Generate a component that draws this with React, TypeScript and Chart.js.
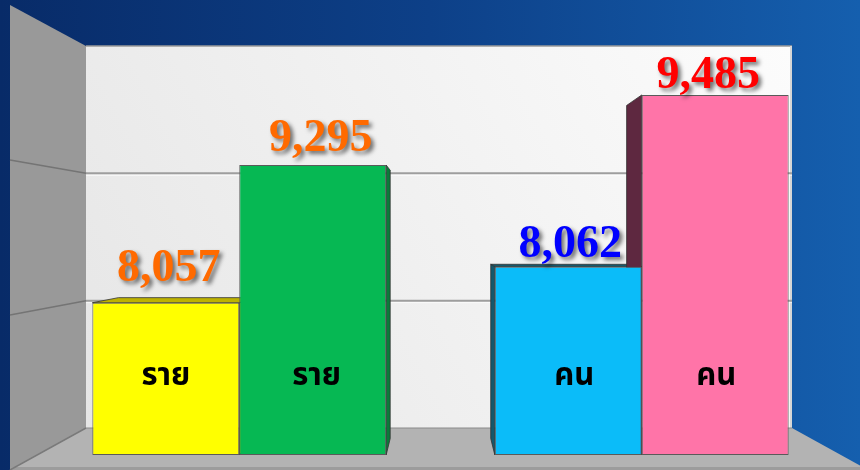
import React, { useEffect, useRef } from 'react';
import { Chart, registerables } from 'chart.js';

Chart.register(...registerables);

// ---- data ----
const groups = ['ราย', 'คน'];
const caseValues = [8057, 9295];
const personValues = [8062, 9485];

// ---- styles ----
const caseColors = ['#ffff00', '#06b853'];
const personColors = ['#0bbcf9', '#ff74a8'];
const caseSideColors = ['#bdb200', '#0a7a3a'];
const personSideColors = ['#14586c', '#5e2840'];
const caseLabelColors = ['#ff6a00', '#ff6a00'];
const personLabelColors = ['#0000ff', '#ff0000'];
const caseAxis = { min: 6688, max: 10374 };
const personAxis = { min: 6501, max: 9899 };
// label nudges (pixels) per bar, in drawing order
const valueLabelShiftX = [3, 8, 2, -7];
const valueLabelLift = [22, 14, 10, 7];
const unitLabelShiftX = [0, 4, 6, 1];

const sideColors = [...caseSideColors, ...personSideColors];
const labelColors = [...caseLabelColors, ...personLabelColors];
const unitLabels = [groups[0], groups[0], groups[1], groups[1]];
const thaiFont =
  "'Noto Sans Thai', 'Noto Sans Thai UI', Loma, Garuda, Waree, Norasi, Kinnari, Umpush, Sawasdee, Tahoma, 'Noto Serif Thai', 'DejaVu Sans', sans-serif";

const roomPlugin = {
  id: 'room',
  beforeDraw(chart: any) {
    const { ctx, chartArea: ca, width, height } = chart;
    const bl = ca.left + 48;
    const br = ca.right - 51;
    const bt = ca.top + 1;
    const bb = ca.bottom - 27;
    const wx = 10;
    const wt = 5;
    const ff = height;
    ctx.save();
    const bg = ctx.createLinearGradient(0, 0, width, 0);
    bg.addColorStop(0, '#082b68');
    bg.addColorStop(0.5, '#0d4088');
    bg.addColorStop(1, '#155fae');
    ctx.fillStyle = bg;
    ctx.fillRect(0, 0, width, height);
    const bw = ctx.createLinearGradient(bl, bb, br, bt);
    bw.addColorStop(0, '#e6e6e6');
    bw.addColorStop(1, '#fcfcfc');
    ctx.fillStyle = bw;
    ctx.fillRect(bl, bt, br - bl, bb - bt);
    ctx.strokeStyle = '#9a9a9a';
    ctx.lineWidth = 1.5;
    ctx.beginPath();
    ctx.moveTo(bl, bt);
    ctx.lineTo(br, bt);
    ctx.stroke();
    ctx.strokeStyle = '#d6d6d6';
    ctx.lineWidth = 2;
    ctx.beginPath();
    ctx.moveTo(br - 1, bt);
    ctx.lineTo(br - 1, bb);
    ctx.stroke();
    ctx.fillStyle = '#999999';
    ctx.beginPath();
    ctx.moveTo(wx, wt);
    ctx.lineTo(bl, bt);
    ctx.lineTo(bl, bb);
    ctx.lineTo(wx, ff);
    ctx.closePath();
    ctx.fill();
    ctx.fillStyle = '#b3b3b3';
    ctx.beginPath();
    ctx.moveTo(bl, bb);
    ctx.lineTo(br, bb);
    ctx.lineTo(br + 76, ff);
    ctx.lineTo(wx, ff);
    ctx.closePath();
    ctx.fill();
    ctx.fillStyle = '#9c9c9c';
    ctx.fillRect(wx, ff - 3, br + 76 - wx, 3);
    ctx.strokeStyle = '#7a7a7a';
    ctx.lineWidth = 1.5;
    ctx.beginPath();
    ctx.moveTo(bl, bb);
    ctx.lineTo(wx, ff);
    ctx.stroke();
    ctx.strokeStyle = '#8a8a8a';
    ctx.lineWidth = 1;
    ctx.beginPath();
    ctx.moveTo(bl, bb);
    ctx.lineTo(br, bb);
    ctx.stroke();
    for (let i = 1; i <= 2; i++) {
      const f = i / 3;
      const by = bt + f * (bb - bt);
      const fy = wt + f * (ff - wt);
      ctx.strokeStyle = '#9e9e9e';
      ctx.lineWidth = 2;
      ctx.beginPath();
      ctx.moveTo(bl, by);
      ctx.lineTo(br, by);
      ctx.stroke();
      ctx.strokeStyle = 'rgba(255,255,255,0.7)';
      ctx.lineWidth = 1;
      ctx.beginPath();
      ctx.moveTo(bl, by + 2);
      ctx.lineTo(br, by + 2);
      ctx.stroke();
      ctx.strokeStyle = '#747474';
      ctx.lineWidth = 1.5;
      ctx.beginPath();
      ctx.moveTo(wx, fy);
      ctx.lineTo(bl, by);
      ctx.stroke();
    }
    // prime the Thai fallback font
    ctx.font = 'bold 32px ' + thaiFont;
    ctx.measureText(groups.join(' '));
    ctx.restore();
  },
};

const V = { x: 440, y: 235 };
const K = 0.075;
const backPt = (px: number, py: number): [number, number] => [px + K * (V.x - px), py + K * (V.y - py)];

const depthPlugin = {
  id: 'depth',
  beforeDatasetsDraw(chart: any) {
    const { ctx } = chart;
    ctx.save();
    chart.data.datasets.forEach((ds: any, di: number) => {
      const meta = chart.getDatasetMeta(di);
      meta.data.forEach((el: any, i: number) => {
        const v = ds.data[i];
        if (v === null || v === undefined) return;
        const L = el.x - el.width / 2;
        const R = el.x + el.width / 2;
        const T = el.y;
        const B = Math.min(el.base, chart.chartArea.bottom);
        const faces: [number, number][][] = [];
        if (R < V.x) faces.push([[R, T], backPt(R, T), backPt(R, B), [R, B]]);
        if (L > V.x) faces.push([[L, T], backPt(L, T), backPt(L, B), [L, B]]);
        if (T > V.y) faces.push([[L, T], backPt(L, T), backPt(R, T), [R, T]]);
        faces.forEach((poly) => {
          ctx.fillStyle = sideColors[di];
          ctx.strokeStyle = 'rgba(50,50,50,0.8)';
          ctx.lineWidth = 1;
          ctx.beginPath();
          poly.forEach(([x, y], j) => (j ? ctx.lineTo(x, y) : ctx.moveTo(x, y)));
          ctx.closePath();
          ctx.fill();
          ctx.stroke();
        });
      });
    });
    ctx.restore();
  },
};

const labelPlugin = {
  id: 'labels',
  afterDatasetsDraw(chart: any) {
    const { ctx } = chart;
    ctx.save();
    chart.data.datasets.forEach((ds: any, di: number) => {
      const meta = chart.getDatasetMeta(di);
      meta.data.forEach((el: any, i: number) => {
        const v = ds.data[i];
        if (v === null || v === undefined) return;
        ctx.shadowColor = 'transparent';
        ctx.fillStyle = '#000000';
        ctx.font = 'bold 31px ' + thaiFont;
        ctx.textAlign = 'center';
        ctx.textBaseline = 'alphabetic';
        ctx.fillText(unitLabels[di], el.x + unitLabelShiftX[di], el.base - 70);
        ctx.font = "bold 46px 'Liberation Serif', 'Times New Roman', serif";
        ctx.shadowColor = 'rgba(0,0,0,0.55)';
        ctx.shadowOffsetX = 3;
        ctx.shadowOffsetY = 3;
        ctx.shadowBlur = 4;
        ctx.fillStyle = labelColors[di];
        ctx.fillText(
          Number(v).toLocaleString('en-US'),
          el.x + valueLabelShiftX[di],
          el.y - valueLabelLift[di]
        );
      });
    });
    ctx.restore();
  },
};

export default function App() {
  const ref = useRef<HTMLCanvasElement | null>(null);
  useEffect(() => {
    if (!ref.current) return;
    const datasets: any[] = [
      ...caseValues.map((v, i) => ({
        label: groups[0] + ' ' + (i + 1),
        data: [v, null],
        yAxisID: 'yCases',
        base: caseAxis.min,
        backgroundColor: caseColors[i],
      })),
      ...personValues.map((v, i) => ({
        label: groups[1] + ' ' + (i + 1),
        data: [null, v],
        yAxisID: 'yPersons',
        base: personAxis.min,
        backgroundColor: personColors[i],
      })),
    ];
    const chart = new Chart(ref.current, {
      type: 'bar',
      data: { labels: groups, datasets },
      options: {
        responsive: false,
        animation: false,
        devicePixelRatio: 1,
        layout: { padding: { left: 38, right: 17, top: 45, bottom: 15 } },
        datasets: {
          bar: {
            skipNull: true,
            categoryPercentage: 0.73,
            barPercentage: 1,
            borderWidth: 1,
            borderColor: '#5a5a5a',
            borderSkipped: false,
          } as any,
        },
        plugins: { legend: { display: false }, tooltip: { enabled: false } },
        scales: {
          x: { display: false, grid: { display: false } },
          yCases: { type: 'linear', display: false, min: caseAxis.min, max: caseAxis.max },
          yPersons: { type: 'linear', display: false, min: personAxis.min, max: personAxis.max },
        },
      },
      plugins: [roomPlugin, depthPlugin, labelPlugin],
    });
    let alive = true;
    if ((document as any).fonts && (document as any).fonts.ready) {
      (document as any).fonts.ready.then(() => {
        if (alive) chart.draw();
      });
    }
    return () => {
      alive = false;
      chart.destroy();
    };
  }, []);
  return (
    <div style={{ position: 'fixed', left: 0, top: 0, width: 860, height: 470 }}>
      <canvas ref={ref} width={860} height={470} />
    </div>
  );
}
